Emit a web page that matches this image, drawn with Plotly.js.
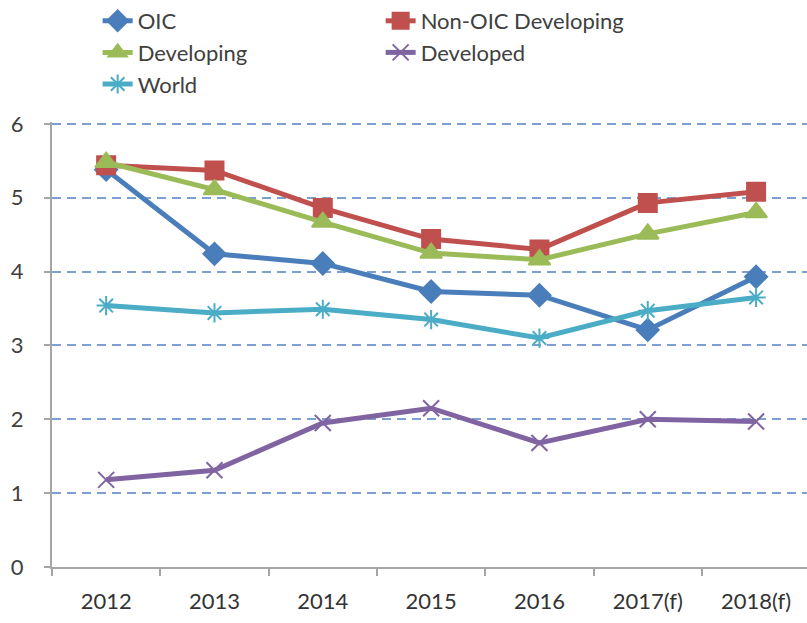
<!DOCTYPE html>
<html>
<head>
<meta charset="utf-8">
<script src="https://cdn.plot.ly/plotly-3.0.1.min.js"></script>
<style>body{margin:0;padding:0;background:#fff;}#chart{width:807px;height:623px;}</style>
</head>
<body>
<div id="chart"></div>
<script>
const years = ["2012", "2013", "2014", "2015", "2016", "2017(f)", "2018(f)"];
const oic = [5.38, 4.24, 4.11, 3.73, 3.68, 3.21, 3.93];
const nonOicDeveloping = [5.44, 5.37, 4.86, 4.44, 4.30, 4.93, 5.08];
const developing = [5.48, 5.11, 4.67, 4.25, 4.16, 4.51, 4.80];
const developed = [1.18, 1.31, 1.95, 2.15, 1.68, 2.00, 1.97];
const world = [3.54, 3.44, 3.49, 3.35, 3.10, 3.47, 3.65];

const FONT = 'Lato, "Open Sans", sans-serif';

function tr(name, y, color, symbol, size) {
  return {
    type: 'scatter', mode: 'lines+markers', name: name, x: years, y: y,
    line: {color: color, width: 5},
    marker: {symbol: symbol, size: size, color: color, line: {color: color, width: 2}}
  };
}

const data = [
  tr('OIC', oic, '#4a7ebb', 'diamond', 17),
  tr('Non-OIC Developing', nonOicDeveloping, '#c0504d', 'square', 18),
  tr('Developing', developing, '#9bbb59', 'triangle-up', 19),
  tr('Developed', developed, '#8064a2', 'x-thin-open', 16),
  tr('World', world, '#4bacc6', 'asterisk-open', 16)
];

const layout = {
  width: 807, height: 623,
  margin: {l: 52, r: 0, t: 122, b: 56},
  paper_bgcolor: '#fff', plot_bgcolor: '#fff',
  font: {family: FONT, size: 22, color: '#404040'},
  showlegend: true,
  legend: {
    orientation: 'h', xref: 'container', yref: 'container',
    x: 0.121, y: 1.0, xanchor: 'left', yanchor: 'top',
    entrywidth: 238, entrywidthmode: 'pixels',
    font: {family: FONT, size: 22, color: '#404040'},
    traceorder: 'normal', bgcolor: 'rgba(0,0,0,0)'
  },
  xaxis: {
    type: 'category', range: [-0.5, 6.47],
    showline: true, linecolor: '#a6a6a6', linewidth: 2,
    ticks: 'outside', tickson: 'boundaries', ticklen: 7, tickcolor: '#a6a6a6', tickwidth: 2,
    showgrid: false, zeroline: false,
    tickfont: {family: FONT, size: 22, color: '#333333'},
    ticklabelstandoff: 14
  },
  yaxis: {
    range: [0, 6.025], tickvals: [0, 1, 2, 3, 4, 5, 6],
    showline: true, linecolor: '#a6a6a6', linewidth: 2,
    ticks: 'outside', ticklen: 6, tickcolor: '#a6a6a6', tickwidth: 2,
    showgrid: true, gridcolor: '#7d9fd2', gridwidth: 2, griddash: '9px,6px',
    zeroline: false,
    tickfont: {family: FONT, size: 22, color: '#404040'},
    ticklabelstandoff: 16
  }
};

Plotly.newPlot('chart', data, layout, {displayModeBar: false, staticPlot: true});
</script>
</body>
</html>
